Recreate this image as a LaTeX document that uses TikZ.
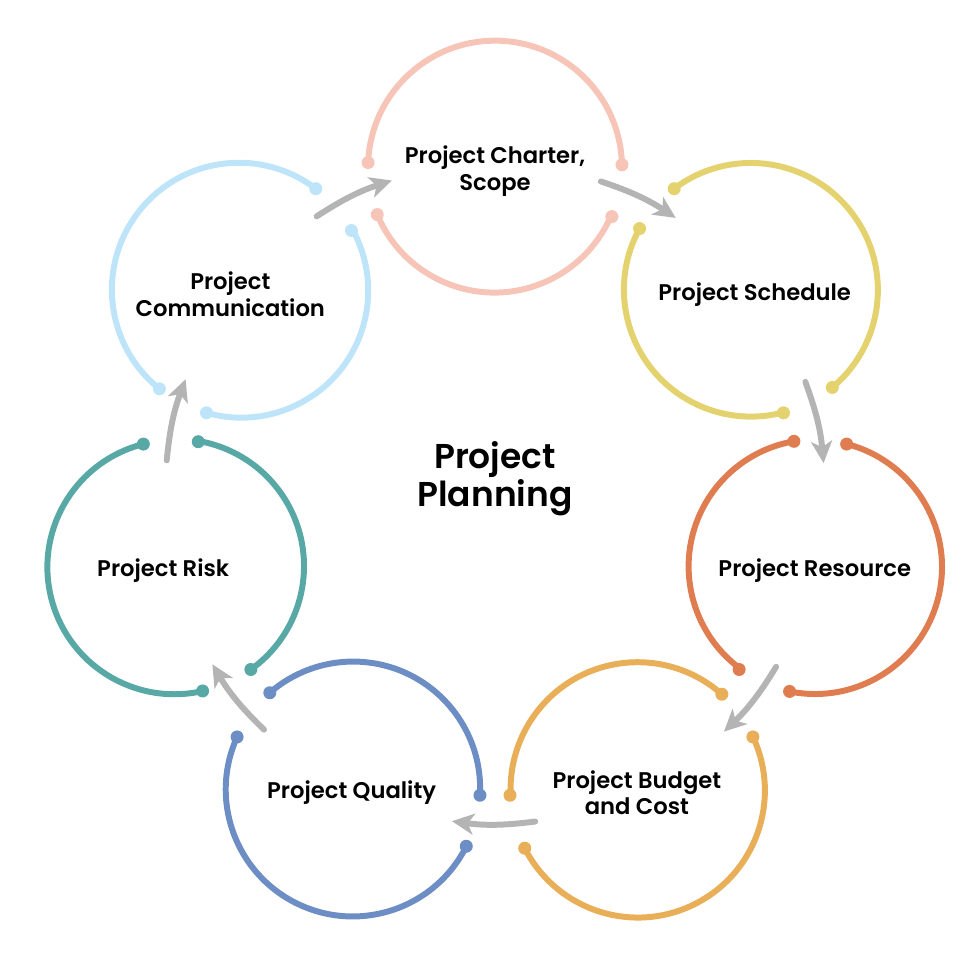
\documentclass[tikz,border=0pt]{standalone}
\usepackage{fontspec}
\setmainfont{Poppins}[BoldFont={Poppins SemiBold}]
\usetikzlibrary{arrows.meta}

\definecolor{charter}{HTML}{F7C5B7}
\definecolor{schedule}{HTML}{E3D26E}
\definecolor{resource}{HTML}{E07D50}
\definecolor{budget}{HTML}{E9AE58}
\definecolor{quality}{HTML}{6C8EC5}
\definecolor{risk}{HTML}{58A9A6}
\definecolor{communication}{HTML}{BEE4FA}
\definecolor{flowgray}{HTML}{B4B4B4}

\begin{document}
\begin{tikzpicture}[every node/.style={circle, inner sep=0pt, outer sep=0pt, align=center, font=\fontsize{12.9}{15.2}\selectfont\bfseries},
				   phase/.style={minimum size=5.08cm},
				   ring/.style={line width=3.4pt},
				   flow/.style={line width=3.4pt, draw=flowgray, line cap=round, -{Stealth[length=4.4mm, width=4.2mm, inset=1.2mm]}}]
\useasboundingbox (-9.9,9.88) rectangle (9.7,-9.72);

\node (title) at (0,0.3) [font=\fontsize{19.6}{21.8}\selectfont\bfseries] {Project\\Planning};

% circles, each split in two arcs with a dot at every end
\foreach \i/\name/\col/\dx/\txt in {0/pcharter/charter/0/{Project Charter,\\Scope},
		1/pschedule/schedule/0.08/{Project Schedule},
		2/presource/resource/0.02/{Project Resource},
		3/pbudget/budget/0/{Project Budget\\and Cost},
		4/pquality/quality/-0.03/{Project Quality},
		5/prisk/risk/-0.26/{Project Risk},
		6/pcomm/communication/-0.18/{Project\\Communication}}
{
	\pgfmathsetmacro\ang{90-\i*360/7}
	\pgfmathsetmacro\ea{\ang-88.7}
	\pgfmathsetmacro\eb{\ang+88.7}
	\pgfmathsetmacro\ec{\ang+112.7}
	\pgfmathsetmacro\ed{\ang+247.3}
	\node[phase, label={[xshift=\dx cm, yshift=-0.08cm]center:\txt}] (\name) at (\ang:6.54) {};
	\draw[ring, draw=\col] (\name.\ea) arc[start angle=\ea, end angle=\eb, radius=2.54];
	\draw[ring, draw=\col] (\name.\ec) arc[start angle=\ec, end angle=\ed, radius=2.54];
	\foreach \e in {\ea,\eb,\ec,\ed}
		\fill[\col] (\name.\e) circle (0.13);
}

% arrows from one circle to the next
\foreach \k in {0,...,6}
{
	\pgfmathsetmacro\mid{64.286-\k*360/7}
	\coordinate (from\k) at (\mid+7:6.6);
	\coordinate (to\k) at (\mid-7.5:6.6);
	\draw[flow] (from\k) to[bend left=7.5] (to\k);
}
\end{tikzpicture}
\end{document}
